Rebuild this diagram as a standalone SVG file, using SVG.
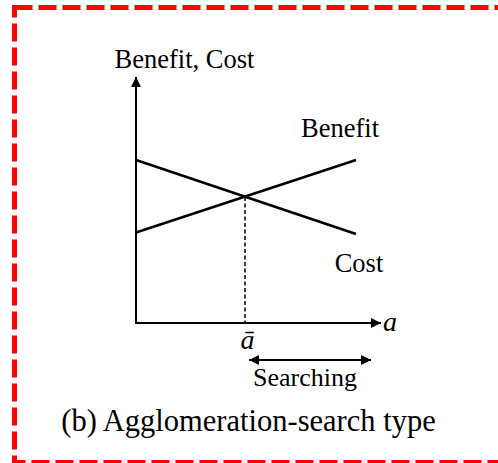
<svg xmlns="http://www.w3.org/2000/svg" width="498" height="463" viewBox="0 0 498 463">
  <style>
    .t { font-family: "Liberation Serif", "Times New Roman", serif; fill: #000; }
    .ax { stroke: #000; stroke-width: 2; fill: none; }
    .ln { stroke: #000; stroke-width: 2.6; fill: none; }
  </style>
  <defs>
    <marker id="ah" viewBox="0 0 10 10" refX="10" refY="5" markerWidth="11" markerHeight="10" markerUnits="userSpaceOnUse" orient="auto-start-reverse">
      <path d="M0,0 L10,5 L0,10 Z" fill="#000"/>
    </marker>
  </defs>
  <rect x="0" y="0" width="498" height="463" fill="#fff"/>
  <rect id="frame" x="14.5" y="7.5" width="486" height="455" fill="none" stroke="#ff0000" stroke-width="5" stroke-dasharray="18 6"/>
  <g id="connectors">
    <line class="ax" x1="136" y1="324" x2="136" y2="77" marker-end="url(#ah)"/>
    <line class="ax" x1="135" y1="323" x2="381" y2="323" marker-end="url(#ah)"/>
    <line x1="245" y1="197" x2="245" y2="322" stroke="#000" stroke-width="1.5" stroke-dasharray="4 2.5"/>
    <line class="ax" x1="249" y1="360" x2="371" y2="360" marker-start="url(#ah)" marker-end="url(#ah)"/>
  </g>
  <g id="benefit-line"><line class="ln" x1="136" y1="232.5" x2="356" y2="160"/></g>
  <g id="cost-line"><line class="ln" x1="136" y1="160" x2="356" y2="234"/></g>
  <g id="y-label"><text class="t" x="184.5" y="68" font-size="26.5" text-anchor="middle">Benefit, Cost</text></g>
  <g id="benefit-label"><text class="t" x="340" y="137" font-size="26.5" text-anchor="middle">Benefit</text></g>
  <g id="cost-label"><text class="t" x="359" y="272" font-size="26.5" text-anchor="middle">Cost</text></g>
  <g id="x-label"><text class="t" x="383" y="331" font-size="28" font-style="italic">a</text></g>
  <g id="abar-label"><text class="t" x="247.5" y="349" font-size="28" font-style="italic" text-anchor="middle">ā</text></g>
  <g id="searching-label"><text class="t" x="305" y="386" font-size="26" text-anchor="middle">Searching</text></g>
  <g id="caption"><text class="t" x="248.5" y="431" font-size="30.5" text-anchor="middle">(b) Agglomeration-search type</text></g>
</svg>
